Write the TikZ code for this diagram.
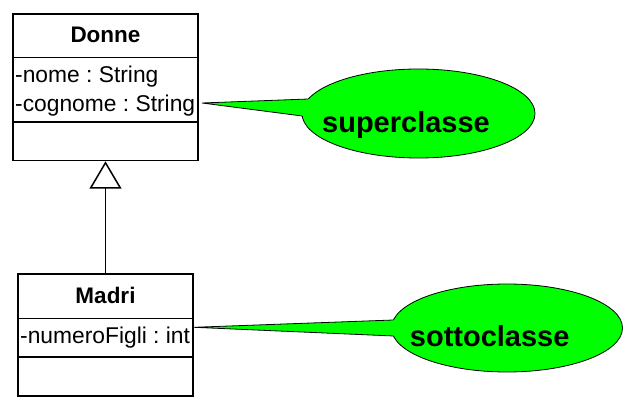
\documentclass[tikz,border=0pt]{standalone}
\usepackage{fontspec}
\setmainfont{Liberation Sans}
\usetikzlibrary{shapes.geometric,arrows.meta}
\definecolor{callgreen}{HTML}{00FF00}
\frenchspacing
\begin{document}
\begin{tikzpicture}[x=1pt,y=-1pt,
  comp/.style={draw=black,line width=1.5pt,rectangle,inner sep=0pt,fill=white},
  cname/.style={anchor=base,inner sep=0pt,font=\fontsize{22.5}{27}\selectfont\bfseries},
  attr/.style={anchor=base west,inner sep=0pt,font=\fontsize{22.8}{27}\selectfont},
  bubble/.style={ellipse,draw=black,line width=0.8pt,fill=callgreen,inner sep=0pt},
  btext/.style={anchor=base,inner sep=0pt,font=\fontsize{29}{34}\selectfont\bfseries},
  tailedge/.style={draw=black,line width=0.8pt},
  inherit/.style={draw=black,line width=1pt,-{Triangle[open,length=27.5pt,width=32pt,line width=1.5pt,fill=white]}}
]
\useasboundingbox (0,0) rectangle (628,411);

% Donne class
\node[comp,minimum width=185pt,minimum height=43.7pt] (donneH) at (105.5,35.85) {};
\node[comp,minimum width=185pt,minimum height=64.3pt] (donneA) at (105.5,89.85) {};
\node[comp,minimum width=185pt,minimum height=38.5pt] (donneM) at (105.5,141.25) {};
\node[cname] (donneT) at (105.5,42.7) {Donne};
\node[attr] (donneA1) at (15,82.7) {-nome : String};
\node[attr] (donneA2) at (15,111.7) {-cognome : String};

% Madri class
\node[comp,minimum width=175pt,minimum height=44.7pt] (madriH) at (105.5,296.35) {};
\node[comp,minimum width=175pt,minimum height=38.3pt] (madriA) at (105.5,337.85) {};
\node[comp,minimum width=175pt,minimum height=39pt] (madriM) at (105.5,376.5) {};
\node[cname] (madriT) at (105.5,303.3) {Madri};
\node[attr] (madriA1) at (20,343.3) {-numeroFigli : int};

% inheritance
\draw[inherit] (madriH.north) -- (donneM.south);

% superclasse callout
\coordinate (supTip) at (202,103);
\node[bubble,minimum width=233pt,minimum height=89pt] (supE) at (418.5,113.5) {};
\fill[callgreen] (supTip) -- (308.4,99) -- (330,99.5) -- (330,115.5) -- (302.2,116) -- cycle;
\draw[tailedge] (308.4,99) -- (supTip) -- (302.2,116);
\node[btext] (supT) at (406,132.7) {superclasse};

% sottoclasse callout
\coordinate (sotTip) at (194,327.3);
\node[bubble,minimum width=231pt,minimum height=88pt] (sotE) at (507,328) {};
\fill[callgreen] (sotTip) -- (393.4,320) -- (415,320.5) -- (415,335.5) -- (393.6,336) -- cycle;
\draw[tailedge] (393.4,320) -- (sotTip) -- (393.6,336);
\node[btext] (sotT) at (489.7,346) {sottoclasse};
\end{tikzpicture}
\end{document}
